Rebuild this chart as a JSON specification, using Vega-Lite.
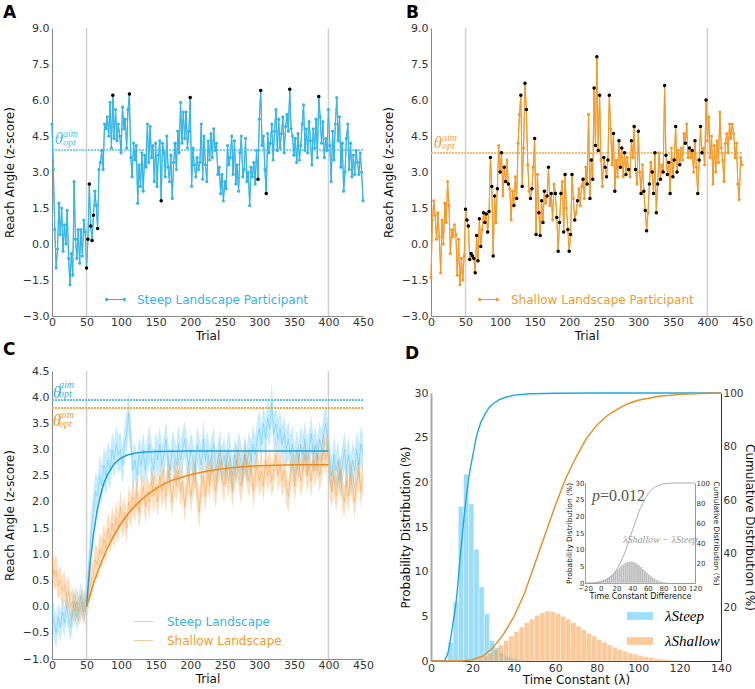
{
"$schema": "https://vega.github.io/schema/vega-lite/v6.json",
"background": "white",
"padding": {"left": 3, "top": 4, "right": 0, "bottom": 0},
"config": {
  "view": {"stroke": null},
  "font": "DejaVu Sans",
  "axis": {"grid": false, "ticks": false, "labelFontSize": 11, "titleFontSize": 12, "titleFontWeight": "normal", "labelColor": "#333", "titleColor": "#111", "domainColor": "#888", "labelPadding": 3, "titlePadding": 4, "labelFlush": false, "labelOverlap": false, "labelSeparation": 0, "labelFont": "DejaVu Sans", "titleFont": "DejaVu Sans"},
  "legend": {"padding": 0, "labelFont": "DejaVu Sans", "labelFontSize": 12, "labelLimit": 400},
  "title": {"fontSize": 17, "fontWeight": "bold", "anchor": "start", "frame": "group", "color": "#000", "font": "DejaVu Sans"}
},
"columns": 2,
"spacing": {"row": 55, "column": 68},
"bounds": "flush",
"resolve": {"scale": {"color": "independent"}, "legend": {"color": "independent"}},
"datasets": {
"steepP": [{"t":0,"v":5.0},{"t":2,"v":3.1},{"t":4,"v":0.6},{"t":6,"v":-1.0},{"t":8,"v":-0.2},{"t":10,"v":1.7},{"t":12,"v":0.4},{"t":14,"v":1.5},{"t":16,"v":-0.3},{"t":18,"v":0.8},{"t":20,"v":0.0},{"t":22,"v":1.4},{"t":24,"v":-0.6},{"t":26,"v":-1.7},{"t":28,"v":-0.4},{"t":30,"v":-1.3},{"t":32,"v":2.6},{"t":34,"v":0.2},{"t":36,"v":-0.6},{"t":38,"v":0.6},{"t":40,"v":-0.8},{"t":42,"v":0.6},{"t":44,"v":-0.5},{"t":46,"v":1.0},{"t":48,"v":0.5},{"t":50,"v":-1.0,"k":1},{"t":52,"v":0.2,"k":1},{"t":54,"v":2.5,"k":1},{"t":56,"v":0.75,"k":1},{"t":58,"v":0.15,"k":1},{"t":60,"v":1.2,"k":1},{"t":62,"v":2.2},{"t":64,"v":1.6},{"t":66,"v":0.65,"k":1},{"t":68,"v":3.1},{"t":70,"v":3.4},{"t":72,"v":3.9},{"t":74,"v":3.1},{"t":76,"v":5.0},{"t":78,"v":4.8},{"t":80,"v":5.3},{"t":82,"v":4.5},{"t":84,"v":5.9},{"t":86,"v":4.0},{"t":88,"v":6.2,"k":1},{"t":90,"v":4.4},{"t":92,"v":5.6},{"t":94,"v":4.3},{"t":96,"v":5.0},{"t":98,"v":4.5},{"t":100,"v":3.8},{"t":102,"v":5.7},{"t":104,"v":4.8},{"t":106,"v":5.2},{"t":108,"v":4.0},{"t":110,"v":5.6},{"t":112,"v":6.25,"k":1},{"t":114,"v":3.6},{"t":116,"v":2.8},{"t":118,"v":4.2},{"t":120,"v":3.5},{"t":122,"v":4.1},{"t":124,"v":1.7},{"t":126,"v":3.3},{"t":128,"v":2.4},{"t":130,"v":3.8},{"t":132,"v":2.2},{"t":134,"v":3.7},{"t":136,"v":3.2},{"t":138,"v":5.0},{"t":140,"v":3.4},{"t":142,"v":4.9},{"t":144,"v":3.6},{"t":146,"v":4.1},{"t":148,"v":2.6},{"t":150,"v":4.2},{"t":152,"v":2.4},{"t":154,"v":3.7},{"t":156,"v":4.3},{"t":158,"v":1.8,"k":1},{"t":160,"v":4.2},{"t":162,"v":3.8},{"t":164,"v":2.8},{"t":166,"v":4.5},{"t":168,"v":3.2},{"t":170,"v":2.6},{"t":172,"v":3.7},{"t":174,"v":1.9},{"t":176,"v":3.4},{"t":178,"v":4.2},{"t":180,"v":3.1},{"t":182,"v":4.7},{"t":184,"v":3.8},{"t":186,"v":5.9},{"t":188,"v":4.2},{"t":190,"v":5.5},{"t":192,"v":4.4},{"t":194,"v":5.5},{"t":196,"v":4.0},{"t":198,"v":4.7},{"t":200,"v":6.1,"k":1},{"t":202,"v":2.4},{"t":204,"v":4.0},{"t":206,"v":3.3},{"t":208,"v":2.8},{"t":210,"v":3.6},{"t":212,"v":3.1},{"t":214,"v":3.4},{"t":216,"v":5.0},{"t":218,"v":2.7},{"t":220,"v":4.5},{"t":222,"v":3.3},{"t":224,"v":2.6},{"t":226,"v":4.3},{"t":228,"v":3.5},{"t":230,"v":4.6},{"t":232,"v":3.6},{"t":234,"v":4.8},{"t":236,"v":3.9},{"t":238,"v":4.2},{"t":240,"v":2.9},{"t":242,"v":3.2},{"t":244,"v":2.1},{"t":246,"v":2.9},{"t":248,"v":1.8},{"t":250,"v":2.6},{"t":252,"v":2.3},{"t":254,"v":4.1},{"t":256,"v":3.3},{"t":258,"v":3.6},{"t":260,"v":4.5},{"t":262,"v":2.9},{"t":264,"v":4.3},{"t":266,"v":2.5},{"t":268,"v":3.3},{"t":270,"v":2.2},{"t":272,"v":3.8},{"t":274,"v":4.5},{"t":276,"v":2.8},{"t":278,"v":3.1},{"t":280,"v":4.4},{"t":282,"v":2.6},{"t":284,"v":3.0},{"t":286,"v":1.6},{"t":288,"v":3.2},{"t":290,"v":2.8},{"t":292,"v":3.4},{"t":294,"v":2.5},{"t":296,"v":3.9},{"t":298,"v":2.7,"k":1},{"t":300,"v":5.2},{"t":302,"v":6.4,"k":1},{"t":304,"v":4.1},{"t":306,"v":4.5},{"t":308,"v":3.1},{"t":310,"v":2.1,"k":1},{"t":312,"v":4.6},{"t":314,"v":3.8},{"t":316,"v":4.2},{"t":318,"v":5.0},{"t":320,"v":3.5},{"t":322,"v":4.7},{"t":324,"v":5.6},{"t":326,"v":3.9},{"t":328,"v":5.2},{"t":330,"v":4.0},{"t":332,"v":4.6},{"t":334,"v":5.3},{"t":336,"v":3.8},{"t":338,"v":4.9},{"t":340,"v":5.4},{"t":342,"v":4.7},{"t":344,"v":6.45,"k":1},{"t":346,"v":4.8},{"t":348,"v":4.5},{"t":350,"v":3.7},{"t":352,"v":4.4},{"t":354,"v":3.4},{"t":356,"v":4.6},{"t":358,"v":3.5},{"t":360,"v":4.1},{"t":362,"v":5.0},{"t":364,"v":5.8},{"t":366,"v":3.9},{"t":368,"v":4.8},{"t":370,"v":3.8},{"t":372,"v":5.1},{"t":374,"v":4.3},{"t":376,"v":3.3},{"t":378,"v":4.8},{"t":380,"v":4.0},{"t":382,"v":5.2},{"t":384,"v":3.6},{"t":386,"v":6.15,"k":1},{"t":388,"v":5.3},{"t":390,"v":4.2},{"t":392,"v":5.1},{"t":394,"v":3.6},{"t":396,"v":4.4},{"t":398,"v":3.9},{"t":400,"v":5.6},{"t":402,"v":4.1},{"t":404,"v":2.6},{"t":406,"v":4.7},{"t":408,"v":3.5},{"t":410,"v":5.0},{"t":412,"v":6.1},{"t":414,"v":4.3},{"t":416,"v":5.3},{"t":418,"v":3.2},{"t":420,"v":4.2},{"t":422,"v":2.2},{"t":424,"v":3.0},{"t":426,"v":4.4},{"t":428,"v":5.0},{"t":430,"v":3.1},{"t":432,"v":4.2},{"t":434,"v":2.8},{"t":436,"v":3.7},{"t":438,"v":2.9},{"t":440,"v":3.9},{"t":442,"v":3.4},{"t":444,"v":2.9},{"t":446,"v":3.8},{"t":448,"v":3.0},{"t":450,"v":1.8}],
"shallowP": [{"t":0,"v":-1.4},{"t":2,"v":1.0},{"t":4,"v":1.8},{"t":6,"v":1.2},{"t":8,"v":0.2},{"t":10,"v":1.3},{"t":12,"v":0.3},{"t":14,"v":-1.2},{"t":16,"v":1.0},{"t":18,"v":0.0},{"t":20,"v":1.7},{"t":22,"v":0.9},{"t":24,"v":2.6},{"t":26,"v":1.6},{"t":28,"v":-0.4},{"t":30,"v":0.6},{"t":32,"v":0.3},{"t":34,"v":0.8},{"t":36,"v":0.4},{"t":38,"v":-1.3},{"t":40,"v":0.2},{"t":42,"v":-1.7},{"t":44,"v":-0.6},{"t":46,"v":-1.5},{"t":48,"v":-0.5},{"t":50,"v":1.45,"k":1},{"t":52,"v":1.0,"k":1},{"t":54,"v":0.75,"k":1},{"t":56,"v":-0.65,"k":1},{"t":58,"v":-0.4,"k":1},{"t":60,"v":-0.5,"k":1},{"t":62,"v":-0.6,"k":1},{"t":64,"v":-1.2,"k":1},{"t":66,"v":0.35,"k":1},{"t":68,"v":-0.7,"k":1},{"t":70,"v":1.05,"k":1},{"t":72,"v":-0.1,"k":1},{"t":74,"v":0.6},{"t":76,"v":1.3,"k":1},{"t":78,"v":0.9,"k":1},{"t":80,"v":1.25,"k":1},{"t":82,"v":0.5,"k":1},{"t":84,"v":1.35,"k":1},{"t":86,"v":3.6,"k":1},{"t":88,"v":2.4,"k":1},{"t":90,"v":-0.5,"k":1},{"t":92,"v":2.0,"k":1},{"t":94,"v":0.9},{"t":96,"v":2.3,"k":1},{"t":98,"v":4.1},{"t":100,"v":3.0,"k":1},{"t":102,"v":3.8,"k":1},{"t":104,"v":2.0},{"t":106,"v":3.2,"k":1},{"t":108,"v":2.6,"k":1},{"t":110,"v":3.5},{"t":112,"v":2.5,"k":1},{"t":114,"v":2.3},{"t":116,"v":1.0},{"t":118,"v":2.2},{"t":120,"v":1.6,"k":1},{"t":122,"v":2.8},{"t":124,"v":1.9,"k":1},{"t":126,"v":4.2},{"t":128,"v":5.4},{"t":130,"v":6.2,"k":1},{"t":132,"v":2.4,"k":1},{"t":134,"v":4.0},{"t":136,"v":6.7,"k":1},{"t":138,"v":5.6,"k":1},{"t":140,"v":3.3},{"t":142,"v":2.2},{"t":144,"v":1.9,"k":1},{"t":146,"v":2.3,"k":1},{"t":148,"v":3.2},{"t":150,"v":4.4,"k":1},{"t":152,"v":0.4,"k":1},{"t":154,"v":2.9},{"t":156,"v":1.3,"k":1},{"t":158,"v":0.35,"k":1},{"t":160,"v":1.8,"k":1},{"t":162,"v":0.9,"k":1},{"t":164,"v":2.2,"k":1},{"t":166,"v":1.7},{"t":168,"v":2.0,"k":1},{"t":170,"v":3.2,"k":1},{"t":172,"v":1.6},{"t":174,"v":2.1,"k":1},{"t":176,"v":1.0},{"t":178,"v":2.5},{"t":180,"v":2.1,"k":1},{"t":182,"v":1.1,"k":1},{"t":184,"v":-0.3,"k":1},{"t":186,"v":0.9,"k":1},{"t":188,"v":2.1,"k":1},{"t":190,"v":2.6},{"t":192,"v":0.5,"k":1},{"t":194,"v":2.9,"k":1},{"t":196,"v":1.5},{"t":198,"v":0.6,"k":1},{"t":200,"v":-0.3,"k":1},{"t":202,"v":0.4,"k":1},{"t":204,"v":2.9,"k":1},{"t":206,"v":1.9},{"t":208,"v":1.0,"k":1},{"t":210,"v":1.3},{"t":212,"v":1.8,"k":1},{"t":214,"v":2.3},{"t":216,"v":1.6},{"t":218,"v":2.4},{"t":220,"v":2.7,"k":1},{"t":222,"v":1.9},{"t":224,"v":3.2},{"t":226,"v":2.5,"k":1},{"t":228,"v":5.4},{"t":230,"v":1.9,"k":1},{"t":232,"v":3.5,"k":1},{"t":234,"v":2.7,"k":1},{"t":236,"v":6.5,"k":1},{"t":238,"v":4.1,"k":1},{"t":240,"v":7.8,"k":1},{"t":242,"v":3.9,"k":1},{"t":244,"v":6.2,"k":1},{"t":246,"v":3.5},{"t":248,"v":2.4},{"t":250,"v":3.6,"k":1},{"t":252,"v":3.2,"k":1},{"t":254,"v":2.8,"k":1},{"t":256,"v":3.5,"k":1},{"t":258,"v":6.2,"k":1},{"t":260,"v":4.8},{"t":262,"v":3.3},{"t":264,"v":4.6,"k":1},{"t":266,"v":2.2,"k":1},{"t":268,"v":3.5},{"t":270,"v":2.8},{"t":272,"v":4.3,"k":1},{"t":274,"v":3.2,"k":1},{"t":276,"v":4.0,"k":1},{"t":278,"v":2.8},{"t":280,"v":3.8,"k":1},{"t":282,"v":2.9,"k":1},{"t":284,"v":3.6},{"t":286,"v":3.1,"k":1},{"t":288,"v":2.8},{"t":290,"v":4.3,"k":1},{"t":292,"v":3.6},{"t":294,"v":4.9,"k":1},{"t":296,"v":3.1,"k":1},{"t":298,"v":2.5},{"t":300,"v":4.7,"k":1},{"t":302,"v":3.0},{"t":304,"v":2.1,"k":1},{"t":306,"v":3.3},{"t":308,"v":2.2,"k":1},{"t":310,"v":1.4,"k":1},{"t":312,"v":0.55,"k":1},{"t":314,"v":1.3},{"t":316,"v":2.5,"k":1},{"t":318,"v":3.4},{"t":320,"v":3.0,"k":1},{"t":322,"v":2.1,"k":1},{"t":324,"v":3.8,"k":1},{"t":326,"v":1.3,"k":1},{"t":328,"v":2.5,"k":1},{"t":330,"v":3.8},{"t":332,"v":2.7,"k":1},{"t":334,"v":3.3},{"t":336,"v":3.0,"k":1},{"t":338,"v":6.6,"k":1},{"t":340,"v":3.7,"k":1},{"t":342,"v":2.9,"k":1},{"t":344,"v":3.4,"k":1},{"t":346,"v":2.1,"k":1},{"t":348,"v":4.0},{"t":350,"v":2.8,"k":1},{"t":352,"v":3.5,"k":1},{"t":354,"v":4.9,"k":1},{"t":356,"v":3.0,"k":1},{"t":358,"v":3.9},{"t":360,"v":3.3,"k":1},{"t":362,"v":4.0},{"t":364,"v":3.5},{"t":366,"v":4.6},{"t":368,"v":4.2,"k":1},{"t":370,"v":5.0},{"t":372,"v":3.6},{"t":374,"v":4.0,"k":1},{"t":376,"v":3.6},{"t":378,"v":3.9,"k":1},{"t":380,"v":3.0},{"t":382,"v":4.3,"k":1},{"t":384,"v":3.2},{"t":386,"v":2.1,"k":1},{"t":388,"v":3.5,"k":1},{"t":390,"v":4.9,"k":1},{"t":392,"v":3.8,"k":1},{"t":394,"v":4.0},{"t":396,"v":3.3},{"t":398,"v":6.0,"k":1},{"t":400,"v":4.3},{"t":402,"v":5.3},{"t":404,"v":3.6},{"t":406,"v":4.5},{"t":408,"v":2.5},{"t":410,"v":4.1},{"t":412,"v":3.0},{"t":414,"v":4.3},{"t":416,"v":3.4},{"t":418,"v":5.5},{"t":420,"v":4.0},{"t":422,"v":3.5},{"t":424,"v":2.6},{"t":426,"v":4.2},{"t":428,"v":4.6},{"t":430,"v":3.8},{"t":432,"v":5.0},{"t":434,"v":4.4},{"t":436,"v":5.0},{"t":438,"v":4.6},{"t":440,"v":3.6},{"t":442,"v":4.2},{"t":444,"v":2.5},{"t":446,"v":1.85},{"t":448,"v":3.6},{"t":450,"v":3.3}],
"meanC": [
{"t":0,"g":"Steep","m":-0.1,"e":0.3},{"t":3,"g":"Steep","m":-0.3,"e":0.32},{"t":6,"g":"Steep","m":-0.5,"e":0.3},{"t":9,"g":"Steep","m":-0.2,"e":0.28},{"t":12,"g":"Steep","m":-0.4,"e":0.3},{"t":15,"g":"Steep","m":-0.1,"e":0.27},{"t":18,"g":"Steep","m":-0.3,"e":0.3},{"t":21,"g":"Steep","m":0.0,"e":0.28},{"t":24,"g":"Steep","m":-0.2,"e":0.3},{"t":27,"g":"Steep","m":-0.4,"e":0.26},{"t":30,"g":"Steep","m":-0.1,"e":0.28},{"t":33,"g":"Steep","m":0.1,"e":0.3},{"t":36,"g":"Steep","m":-0.2,"e":0.27},{"t":39,"g":"Steep","m":0.0,"e":0.28},{"t":42,"g":"Steep","m":0.2,"e":0.3},{"t":45,"g":"Steep","m":-0.1,"e":0.26},{"t":48,"g":"Steep","m":0.1,"e":0.28},{"t":51,"g":"Steep","m":0.3,"e":0.3},{"t":54,"g":"Steep","m":0.9,"e":0.35},{"t":57,"g":"Steep","m":1.5,"e":0.38},{"t":60,"g":"Steep","m":1.8,"e":0.4},{"t":63,"g":"Steep","m":2.2,"e":0.38},{"t":66,"g":"Steep","m":2.1,"e":0.36},{"t":69,"g":"Steep","m":2.5,"e":0.4},{"t":72,"g":"Steep","m":2.3,"e":0.38},{"t":75,"g":"Steep","m":2.7,"e":0.36},{"t":78,"g":"Steep","m":2.5,"e":0.4},{"t":81,"g":"Steep","m":2.8,"e":0.36},{"t":84,"g":"Steep","m":2.6,"e":0.38},{"t":87,"g":"Steep","m":3.0,"e":0.35},{"t":90,"g":"Steep","m":2.8,"e":0.37},{"t":93,"g":"Steep","m":3.1,"e":0.35},{"t":96,"g":"Steep","m":2.9,"e":0.38},{"t":99,"g":"Steep","m":3.0,"e":0.35},{"t":102,"g":"Steep","m":2.7,"e":0.36},{"t":105,"g":"Steep","m":3.1,"e":0.38},{"t":108,"g":"Steep","m":3.3,"e":0.4},{"t":111,"g":"Steep","m":3.7,"e":0.4},{"t":114,"g":"Steep","m":3.2,"e":0.38},{"t":117,"g":"Steep","m":2.6,"e":0.36},{"t":120,"g":"Steep","m":2.8,"e":0.35},{"t":123,"g":"Steep","m":2.5,"e":0.37},{"t":126,"g":"Steep","m":2.9,"e":0.35},{"t":129,"g":"Steep","m":2.7,"e":0.36},{"t":132,"g":"Steep","m":3.0,"e":0.35},{"t":135,"g":"Steep","m":2.6,"e":0.37},{"t":138,"g":"Steep","m":2.9,"e":0.35},{"t":141,"g":"Steep","m":3.1,"e":0.36},{"t":144,"g":"Steep","m":2.8,"e":0.35},{"t":147,"g":"Steep","m":2.6,"e":0.37},{"t":150,"g":"Steep","m":3.0,"e":0.35},{"t":153,"g":"Steep","m":2.8,"e":0.36},{"t":156,"g":"Steep","m":3.1,"e":0.35},{"t":159,"g":"Steep","m":2.7,"e":0.37},{"t":162,"g":"Steep","m":2.9,"e":0.35},{"t":165,"g":"Steep","m":3.2,"e":0.36},{"t":168,"g":"Steep","m":2.8,"e":0.35},{"t":171,"g":"Steep","m":2.6,"e":0.37},{"t":174,"g":"Steep","m":3.0,"e":0.35},{"t":177,"g":"Steep","m":2.9,"e":0.36},{"t":180,"g":"Steep","m":2.7,"e":0.35},{"t":183,"g":"Steep","m":3.1,"e":0.37},{"t":186,"g":"Steep","m":2.8,"e":0.35},{"t":189,"g":"Steep","m":3.0,"e":0.36},{"t":192,"g":"Steep","m":3.2,"e":0.35},{"t":195,"g":"Steep","m":2.9,"e":0.37},{"t":198,"g":"Steep","m":2.7,"e":0.35},{"t":201,"g":"Steep","m":3.0,"e":0.36},{"t":204,"g":"Steep","m":2.8,"e":0.35},{"t":207,"g":"Steep","m":2.6,"e":0.37},{"t":210,"g":"Steep","m":3.1,"e":0.35},{"t":213,"g":"Steep","m":2.9,"e":0.36},{"t":216,"g":"Steep","m":2.7,"e":0.35},{"t":219,"g":"Steep","m":3.2,"e":0.37},{"t":222,"g":"Steep","m":2.8,"e":0.35},{"t":225,"g":"Steep","m":3.0,"e":0.36},{"t":228,"g":"Steep","m":2.7,"e":0.35},{"t":231,"g":"Steep","m":2.9,"e":0.37},{"t":234,"g":"Steep","m":3.1,"e":0.35},{"t":237,"g":"Steep","m":2.6,"e":0.36},{"t":240,"g":"Steep","m":2.8,"e":0.35},{"t":243,"g":"Steep","m":3.0,"e":0.37},{"t":246,"g":"Steep","m":2.7,"e":0.35},{"t":249,"g":"Steep","m":2.9,"e":0.36},{"t":252,"g":"Steep","m":2.6,"e":0.35},{"t":255,"g":"Steep","m":3.0,"e":0.37},{"t":258,"g":"Steep","m":2.8,"e":0.35},{"t":261,"g":"Steep","m":2.5,"e":0.36},{"t":264,"g":"Steep","m":2.9,"e":0.35},{"t":267,"g":"Steep","m":2.7,"e":0.37},{"t":270,"g":"Steep","m":3.0,"e":0.35},{"t":273,"g":"Steep","m":2.8,"e":0.36},{"t":276,"g":"Steep","m":2.6,"e":0.35},{"t":279,"g":"Steep","m":2.9,"e":0.37},{"t":282,"g":"Steep","m":2.7,"e":0.35},{"t":285,"g":"Steep","m":3.0,"e":0.36},{"t":288,"g":"Steep","m":2.8,"e":0.35},{"t":291,"g":"Steep","m":3.1,"e":0.37},{"t":294,"g":"Steep","m":2.9,"e":0.35},{"t":297,"g":"Steep","m":3.2,"e":0.36},{"t":300,"g":"Steep","m":3.4,"e":0.38},{"t":303,"g":"Steep","m":3.1,"e":0.36},{"t":306,"g":"Steep","m":3.5,"e":0.38},{"t":309,"g":"Steep","m":3.2,"e":0.36},{"t":312,"g":"Steep","m":3.6,"e":0.38},{"t":315,"g":"Steep","m":3.4,"e":0.36},{"t":318,"g":"Steep","m":3.9,"e":0.4},{"t":321,"g":"Steep","m":3.3,"e":0.36},{"t":324,"g":"Steep","m":3.5,"e":0.38},{"t":327,"g":"Steep","m":3.2,"e":0.36},{"t":330,"g":"Steep","m":3.4,"e":0.38},{"t":333,"g":"Steep","m":3.1,"e":0.36},{"t":336,"g":"Steep","m":3.3,"e":0.37},{"t":339,"g":"Steep","m":3.0,"e":0.36},{"t":342,"g":"Steep","m":3.2,"e":0.37},{"t":345,"g":"Steep","m":2.9,"e":0.36},{"t":348,"g":"Steep","m":3.1,"e":0.37},{"t":351,"g":"Steep","m":2.7,"e":0.36},{"t":354,"g":"Steep","m":3.0,"e":0.37},{"t":357,"g":"Steep","m":2.8,"e":0.36},{"t":360,"g":"Steep","m":3.1,"e":0.37},{"t":363,"g":"Steep","m":2.9,"e":0.36},{"t":366,"g":"Steep","m":3.2,"e":0.37},{"t":369,"g":"Steep","m":2.8,"e":0.36},{"t":372,"g":"Steep","m":3.0,"e":0.37},{"t":375,"g":"Steep","m":3.3,"e":0.36},{"t":378,"g":"Steep","m":2.9,"e":0.37},{"t":381,"g":"Steep","m":3.1,"e":0.36},{"t":384,"g":"Steep","m":2.8,"e":0.37},{"t":387,"g":"Steep","m":3.2,"e":0.36},{"t":390,"g":"Steep","m":3.0,"e":0.37},{"t":393,"g":"Steep","m":3.3,"e":0.36},{"t":396,"g":"Steep","m":3.5,"e":0.38},{"t":399,"g":"Steep","m":3.2,"e":0.37},{"t":402,"g":"Steep","m":2.8,"e":0.38},{"t":405,"g":"Steep","m":2.5,"e":0.36},{"t":408,"g":"Steep","m":2.9,"e":0.38},{"t":411,"g":"Steep","m":2.6,"e":0.36},{"t":414,"g":"Steep","m":2.8,"e":0.38},{"t":417,"g":"Steep","m":2.4,"e":0.36},{"t":420,"g":"Steep","m":2.7,"e":0.38},{"t":423,"g":"Steep","m":3.0,"e":0.36},{"t":426,"g":"Steep","m":2.6,"e":0.38},{"t":429,"g":"Steep","m":2.9,"e":0.36},{"t":432,"g":"Steep","m":2.5,"e":0.38},{"t":435,"g":"Steep","m":2.8,"e":0.36},{"t":438,"g":"Steep","m":2.6,"e":0.38},{"t":441,"g":"Steep","m":3.0,"e":0.36},{"t":444,"g":"Steep","m":2.7,"e":0.38},{"t":447,"g":"Steep","m":3.1,"e":0.36},{"t":450,"g":"Steep","m":2.9,"e":0.38},
{"t":0,"g":"Shallow","m":0.9,"e":0.35},{"t":3,"g":"Shallow","m":0.6,"e":0.3},{"t":6,"g":"Shallow","m":0.7,"e":0.32},{"t":9,"g":"Shallow","m":0.4,"e":0.28},{"t":12,"g":"Shallow","m":0.5,"e":0.3},{"t":15,"g":"Shallow","m":0.3,"e":0.28},{"t":18,"g":"Shallow","m":0.4,"e":0.3},{"t":21,"g":"Shallow","m":0.2,"e":0.27},{"t":24,"g":"Shallow","m":0.3,"e":0.3},{"t":27,"g":"Shallow","m":0.0,"e":0.27},{"t":30,"g":"Shallow","m":0.1,"e":0.28},{"t":33,"g":"Shallow","m":-0.1,"e":0.27},{"t":36,"g":"Shallow","m":0.1,"e":0.28},{"t":39,"g":"Shallow","m":-0.1,"e":0.26},{"t":42,"g":"Shallow","m":0.0,"e":0.27},{"t":45,"g":"Shallow","m":0.1,"e":0.26},{"t":48,"g":"Shallow","m":-0.1,"e":0.26},{"t":51,"g":"Shallow","m":0.1,"e":0.27},{"t":54,"g":"Shallow","m":0.3,"e":0.28},{"t":57,"g":"Shallow","m":0.5,"e":0.3},{"t":60,"g":"Shallow","m":0.6,"e":0.3},{"t":63,"g":"Shallow","m":0.9,"e":0.32},{"t":66,"g":"Shallow","m":0.8,"e":0.3},{"t":69,"g":"Shallow","m":1.1,"e":0.32},{"t":72,"g":"Shallow","m":1.0,"e":0.3},{"t":75,"g":"Shallow","m":1.3,"e":0.32},{"t":78,"g":"Shallow","m":1.1,"e":0.3},{"t":81,"g":"Shallow","m":1.5,"e":0.33},{"t":84,"g":"Shallow","m":1.3,"e":0.3},{"t":87,"g":"Shallow","m":1.6,"e":0.33},{"t":90,"g":"Shallow","m":1.4,"e":0.3},{"t":93,"g":"Shallow","m":1.7,"e":0.33},{"t":96,"g":"Shallow","m":1.5,"e":0.3},{"t":99,"g":"Shallow","m":1.9,"e":0.33},{"t":102,"g":"Shallow","m":1.6,"e":0.3},{"t":105,"g":"Shallow","m":1.8,"e":0.33},{"t":108,"g":"Shallow","m":1.5,"e":0.3},{"t":111,"g":"Shallow","m":2.0,"e":0.33},{"t":114,"g":"Shallow","m":1.8,"e":0.3},{"t":117,"g":"Shallow","m":2.1,"e":0.33},{"t":120,"g":"Shallow","m":1.9,"e":0.3},{"t":123,"g":"Shallow","m":2.2,"e":0.33},{"t":126,"g":"Shallow","m":1.8,"e":0.3},{"t":129,"g":"Shallow","m":2.1,"e":0.33},{"t":132,"g":"Shallow","m":2.3,"e":0.3},{"t":135,"g":"Shallow","m":1.9,"e":0.33},{"t":138,"g":"Shallow","m":2.2,"e":0.3},{"t":141,"g":"Shallow","m":2.0,"e":0.33},{"t":144,"g":"Shallow","m":2.4,"e":0.3},{"t":147,"g":"Shallow","m":2.1,"e":0.33},{"t":150,"g":"Shallow","m":2.3,"e":0.3},{"t":153,"g":"Shallow","m":2.0,"e":0.33},{"t":156,"g":"Shallow","m":2.5,"e":0.3},{"t":159,"g":"Shallow","m":2.2,"e":0.33},{"t":162,"g":"Shallow","m":2.4,"e":0.3},{"t":165,"g":"Shallow","m":2.1,"e":0.33},{"t":168,"g":"Shallow","m":2.6,"e":0.3},{"t":171,"g":"Shallow","m":2.3,"e":0.33},{"t":174,"g":"Shallow","m":2.0,"e":0.3},{"t":177,"g":"Shallow","m":2.5,"e":0.33},{"t":180,"g":"Shallow","m":2.3,"e":0.3},{"t":183,"g":"Shallow","m":2.6,"e":0.33},{"t":186,"g":"Shallow","m":2.2,"e":0.3},{"t":189,"g":"Shallow","m":2.4,"e":0.33},{"t":192,"g":"Shallow","m":1.9,"e":0.3},{"t":195,"g":"Shallow","m":2.3,"e":0.33},{"t":198,"g":"Shallow","m":2.5,"e":0.3},{"t":201,"g":"Shallow","m":2.1,"e":0.33},{"t":204,"g":"Shallow","m":2.4,"e":0.3},{"t":207,"g":"Shallow","m":2.6,"e":0.33},{"t":210,"g":"Shallow","m":2.2,"e":0.3},{"t":213,"g":"Shallow","m":1.8,"e":0.33},{"t":216,"g":"Shallow","m":2.3,"e":0.3},{"t":219,"g":"Shallow","m":2.5,"e":0.33},{"t":222,"g":"Shallow","m":2.1,"e":0.3},{"t":225,"g":"Shallow","m":2.6,"e":0.33},{"t":228,"g":"Shallow","m":2.3,"e":0.3},{"t":231,"g":"Shallow","m":2.7,"e":0.33},{"t":234,"g":"Shallow","m":2.4,"e":0.3},{"t":237,"g":"Shallow","m":2.2,"e":0.33},{"t":240,"g":"Shallow","m":2.6,"e":0.3},{"t":243,"g":"Shallow","m":2.8,"e":0.33},{"t":246,"g":"Shallow","m":2.5,"e":0.3},{"t":249,"g":"Shallow","m":2.3,"e":0.33},{"t":252,"g":"Shallow","m":2.7,"e":0.3},{"t":255,"g":"Shallow","m":2.4,"e":0.33},{"t":258,"g":"Shallow","m":2.6,"e":0.3},{"t":261,"g":"Shallow","m":2.2,"e":0.33},{"t":264,"g":"Shallow","m":2.5,"e":0.3},{"t":267,"g":"Shallow","m":2.8,"e":0.33},{"t":270,"g":"Shallow","m":2.6,"e":0.3},{"t":273,"g":"Shallow","m":2.3,"e":0.33},{"t":276,"g":"Shallow","m":2.5,"e":0.3},{"t":279,"g":"Shallow","m":2.9,"e":0.33},{"t":282,"g":"Shallow","m":2.6,"e":0.3},{"t":285,"g":"Shallow","m":2.4,"e":0.33},{"t":288,"g":"Shallow","m":2.7,"e":0.3},{"t":291,"g":"Shallow","m":2.2,"e":0.33},{"t":294,"g":"Shallow","m":2.5,"e":0.3},{"t":297,"g":"Shallow","m":2.7,"e":0.33},{"t":300,"g":"Shallow","m":2.4,"e":0.3},{"t":303,"g":"Shallow","m":2.6,"e":0.33},{"t":306,"g":"Shallow","m":2.3,"e":0.3},{"t":309,"g":"Shallow","m":2.8,"e":0.33},{"t":312,"g":"Shallow","m":2.5,"e":0.3},{"t":315,"g":"Shallow","m":2.7,"e":0.33},{"t":318,"g":"Shallow","m":2.4,"e":0.3},{"t":321,"g":"Shallow","m":2.6,"e":0.33},{"t":324,"g":"Shallow","m":2.9,"e":0.3},{"t":327,"g":"Shallow","m":2.5,"e":0.33},{"t":330,"g":"Shallow","m":2.7,"e":0.3},{"t":333,"g":"Shallow","m":2.4,"e":0.33},{"t":336,"g":"Shallow","m":2.6,"e":0.3},{"t":339,"g":"Shallow","m":2.3,"e":0.33},{"t":342,"g":"Shallow","m":2.1,"e":0.3},{"t":345,"g":"Shallow","m":2.5,"e":0.33},{"t":348,"g":"Shallow","m":2.7,"e":0.3},{"t":351,"g":"Shallow","m":2.3,"e":0.33},{"t":354,"g":"Shallow","m":2.6,"e":0.3},{"t":357,"g":"Shallow","m":2.8,"e":0.33},{"t":360,"g":"Shallow","m":2.4,"e":0.3},{"t":363,"g":"Shallow","m":2.6,"e":0.33},{"t":366,"g":"Shallow","m":2.9,"e":0.3},{"t":369,"g":"Shallow","m":2.5,"e":0.33},{"t":372,"g":"Shallow","m":2.7,"e":0.3},{"t":375,"g":"Shallow","m":2.4,"e":0.33},{"t":378,"g":"Shallow","m":2.8,"e":0.3},{"t":381,"g":"Shallow","m":2.6,"e":0.33},{"t":384,"g":"Shallow","m":2.9,"e":0.3},{"t":387,"g":"Shallow","m":2.5,"e":0.33},{"t":390,"g":"Shallow","m":2.7,"e":0.3},{"t":393,"g":"Shallow","m":3.0,"e":0.33},{"t":396,"g":"Shallow","m":2.8,"e":0.3},{"t":399,"g":"Shallow","m":3.1,"e":0.33},{"t":402,"g":"Shallow","m":2.4,"e":0.33},{"t":405,"g":"Shallow","m":2.2,"e":0.3},{"t":408,"g":"Shallow","m":2.5,"e":0.33},{"t":411,"g":"Shallow","m":2.1,"e":0.3},{"t":414,"g":"Shallow","m":2.4,"e":0.33},{"t":417,"g":"Shallow","m":2.6,"e":0.3},{"t":420,"g":"Shallow","m":2.2,"e":0.33},{"t":423,"g":"Shallow","m":2.0,"e":0.3},{"t":426,"g":"Shallow","m":2.4,"e":0.33},{"t":429,"g":"Shallow","m":2.1,"e":0.3},{"t":432,"g":"Shallow","m":2.5,"e":0.33},{"t":435,"g":"Shallow","m":2.3,"e":0.3},{"t":438,"g":"Shallow","m":2.0,"e":0.33},{"t":441,"g":"Shallow","m":2.4,"e":0.3},{"t":444,"g":"Shallow","m":2.6,"e":0.33},{"t":447,"g":"Shallow","m":2.2,"e":0.3},{"t":450,"g":"Shallow","m":2.5,"e":0.33}],
"fitC": [{"t":50,"g":"Steep","v":0},{"t":55,"g":"Steep","v":0.8},{"t":60,"g":"Steep","v":1.38},{"t":65,"g":"Steep","v":1.81},{"t":70,"g":"Steep","v":2.12},{"t":75,"g":"Steep","v":2.35},{"t":80,"g":"Steep","v":2.51},{"t":90,"g":"Steep","v":2.73},{"t":100,"g":"Steep","v":2.84},{"t":110,"g":"Steep","v":2.9},{"t":120,"g":"Steep","v":2.93},{"t":130,"g":"Steep","v":2.95},{"t":150,"g":"Steep","v":2.964},{"t":200,"g":"Steep","v":2.97},{"t":400,"g":"Steep","v":2.97},
{"t":50,"g":"Shallow","v":0},{"t":60,"g":"Shallow","v":0.44},{"t":70,"g":"Shallow","v":0.8},{"t":80,"g":"Shallow","v":1.11},{"t":90,"g":"Shallow","v":1.37},{"t":100,"g":"Shallow","v":1.59},{"t":110,"g":"Shallow","v":1.77},{"t":120,"g":"Shallow","v":1.92},{"t":130,"g":"Shallow","v":2.05},{"t":140,"g":"Shallow","v":2.16},{"t":150,"g":"Shallow","v":2.25},{"t":160,"g":"Shallow","v":2.33},{"t":175,"g":"Shallow","v":2.42},{"t":200,"g":"Shallow","v":2.52},{"t":225,"g":"Shallow","v":2.59},{"t":250,"g":"Shallow","v":2.64},{"t":275,"g":"Shallow","v":2.67},{"t":300,"g":"Shallow","v":2.69},{"t":350,"g":"Shallow","v":2.71},{"t":400,"g":"Shallow","v":2.71}],
"histD": [{"g":"Steep","a":8.2,"b":10.7,"h":2.1},{"g":"Steep","a":10.7,"b":13.2,"h":6.6},{"g":"Steep","a":13.2,"b":15.7,"h":17.3},{"g":"Steep","a":15.7,"b":18.2,"h":20.9},{"g":"Steep","a":18.2,"b":20.7,"h":17.6},{"g":"Steep","a":20.7,"b":23.2,"h":12.5},{"g":"Steep","a":23.2,"b":25.7,"h":8.3},{"g":"Steep","a":25.7,"b":28.2,"h":5.3},{"g":"Steep","a":28.2,"b":30.7,"h":2.3},{"g":"Steep","a":30.7,"b":33.2,"h":1.5},{"g":"Steep","a":33.2,"b":35.7,"h":0.9},{"g":"Steep","a":35.7,"b":38.2,"h":0.5},{"g":"Steep","a":38.2,"b":40.7,"h":0.3},{"g":"Steep","a":40.7,"b":43.2,"h":0.2},{"g":"Steep","a":43.2,"b":45.7,"h":0.1},
{"g":"Shallow","a":20,"b":22.5,"h":0.2},{"g":"Shallow","a":22.5,"b":25,"h":0.35},{"g":"Shallow","a":25,"b":27.5,"h":0.6},{"g":"Shallow","a":27.5,"b":30,"h":0.9},{"g":"Shallow","a":30,"b":32.5,"h":1.3},{"g":"Shallow","a":32.5,"b":35,"h":1.8},{"g":"Shallow","a":35,"b":37.5,"h":2.3},{"g":"Shallow","a":37.5,"b":40,"h":2.8},{"g":"Shallow","a":40,"b":42.5,"h":3.3},{"g":"Shallow","a":42.5,"b":45,"h":3.8},{"g":"Shallow","a":45,"b":47.5,"h":4.3},{"g":"Shallow","a":47.5,"b":50,"h":4.7},{"g":"Shallow","a":50,"b":52.5,"h":5.1},{"g":"Shallow","a":52.5,"b":55,"h":5.4},{"g":"Shallow","a":55,"b":57.5,"h":5.6},{"g":"Shallow","a":57.5,"b":60,"h":5.5},{"g":"Shallow","a":60,"b":62.5,"h":5.3},{"g":"Shallow","a":62.5,"b":65,"h":5.0},{"g":"Shallow","a":65,"b":67.5,"h":4.7},{"g":"Shallow","a":67.5,"b":70,"h":4.3},{"g":"Shallow","a":70,"b":72.5,"h":3.9},{"g":"Shallow","a":72.5,"b":75,"h":3.5},{"g":"Shallow","a":75,"b":77.5,"h":3.1},{"g":"Shallow","a":77.5,"b":80,"h":2.8},{"g":"Shallow","a":80,"b":82.5,"h":2.4},{"g":"Shallow","a":82.5,"b":85,"h":2.1},{"g":"Shallow","a":85,"b":87.5,"h":1.8},{"g":"Shallow","a":87.5,"b":90,"h":1.5},{"g":"Shallow","a":90,"b":92.5,"h":1.3},{"g":"Shallow","a":92.5,"b":95,"h":1.1},{"g":"Shallow","a":95,"b":97.5,"h":0.9},{"g":"Shallow","a":97.5,"b":100,"h":0.75},{"g":"Shallow","a":100,"b":102.5,"h":0.6},{"g":"Shallow","a":102.5,"b":105,"h":0.5},{"g":"Shallow","a":105,"b":107.5,"h":0.4},{"g":"Shallow","a":107.5,"b":110,"h":0.3},{"g":"Shallow","a":110,"b":112.5,"h":0.22},{"g":"Shallow","a":112.5,"b":115,"h":0.16},{"g":"Shallow","a":115,"b":117.5,"h":0.11},{"g":"Shallow","a":117.5,"b":120,"h":0.07},{"g":"Shallow","a":120,"b":122.5,"h":0.04}],
"cdfD": [{"g":"Steep","x":0,"c":0},{"g":"Steep","x":6.5,"c":0},{"g":"Steep","x":8,"c":2.5},{"g":"Steep","x":9,"c":6},{"g":"Steep","x":10,"c":11},{"g":"Steep","x":11,"c":16},{"g":"Steep","x":12,"c":21},{"g":"Steep","x":13,"c":29},{"g":"Steep","x":14,"c":38},{"g":"Steep","x":15,"c":46},{"g":"Steep","x":16,"c":54},{"g":"Steep","x":17,"c":61},{"g":"Steep","x":18,"c":67},{"g":"Steep","x":19,"c":72},{"g":"Steep","x":20,"c":76},{"g":"Steep","x":22,"c":84},{"g":"Steep","x":24,"c":89},{"g":"Steep","x":26,"c":92},{"g":"Steep","x":28,"c":94.5},{"g":"Steep","x":30,"c":96},{"g":"Steep","x":33,"c":97.5},{"g":"Steep","x":36,"c":98.4},{"g":"Steep","x":40,"c":99.2},{"g":"Steep","x":48,"c":99.7},{"g":"Steep","x":60,"c":99.9},{"g":"Steep","x":80,"c":100},{"g":"Steep","x":140,"c":100},
{"g":"Shallow","x":0,"c":0},{"g":"Shallow","x":15,"c":0},{"g":"Shallow","x":20,"c":0.5},{"g":"Shallow","x":25,"c":1.8},{"g":"Shallow","x":30,"c":5},{"g":"Shallow","x":35,"c":10},{"g":"Shallow","x":40,"c":16.5},{"g":"Shallow","x":45,"c":25},{"g":"Shallow","x":50,"c":36},{"g":"Shallow","x":55,"c":47},{"g":"Shallow","x":60,"c":58},{"g":"Shallow","x":65,"c":68},{"g":"Shallow","x":70,"c":76},{"g":"Shallow","x":75,"c":83},{"g":"Shallow","x":80,"c":88},{"g":"Shallow","x":85,"c":91.5},{"g":"Shallow","x":90,"c":94},{"g":"Shallow","x":95,"c":96},{"g":"Shallow","x":100,"c":97.3},{"g":"Shallow","x":110,"c":98.8},{"g":"Shallow","x":120,"c":99.5},{"g":"Shallow","x":130,"c":99.8},{"g":"Shallow","x":140,"c":100}],
"histI": [{"a":-5,"b":-2.5,"h":0.32},{"a":-2.5,"b":0,"h":0.45},{"a":0,"b":2.5,"h":0.63},{"a":2.5,"b":5,"h":0.85},{"a":5,"b":7.5,"h":1.14},{"a":7.5,"b":10,"h":1.48},{"a":10,"b":12.5,"h":1.89},{"a":12.5,"b":15,"h":2.35},{"a":15,"b":17.5,"h":2.87},{"a":17.5,"b":20,"h":3.42},{"a":20,"b":22.5,"h":4.0},{"a":22.5,"b":25,"h":4.57},{"a":25,"b":27.5,"h":5.12},{"a":27.5,"b":30,"h":5.6},{"a":30,"b":32.5,"h":6.01},{"a":32.5,"b":35,"h":6.3},{"a":35,"b":37.5,"h":6.47},{"a":37.5,"b":40,"h":6.5},{"a":40,"b":42.5,"h":6.38},{"a":42.5,"b":45,"h":6.14},{"a":45,"b":47.5,"h":5.78},{"a":47.5,"b":50,"h":5.32},{"a":50,"b":52.5,"h":4.8},{"a":52.5,"b":55,"h":4.23},{"a":55,"b":57.5,"h":3.65},{"a":57.5,"b":60,"h":3.09},{"a":60,"b":62.5,"h":2.55},{"a":62.5,"b":65,"h":2.06},{"a":65,"b":67.5,"h":1.63},{"a":67.5,"b":70,"h":1.27},{"a":70,"b":72.5,"h":0.96},{"a":72.5,"b":75,"h":0.71},{"a":75,"b":77.5,"h":0.52},{"a":77.5,"b":80,"h":0.37},{"a":80,"b":82.5,"h":0.26},{"a":82.5,"b":85,"h":0.17},{"a":85,"b":87.5,"h":0.12},{"a":87.5,"b":90,"h":0.08}],
"cdfI": [{"x":-20,"c":0},{"x":-10,"c":0.2},{"x":0,"c":1.2},{"x":5,"c":2.5},{"x":10,"c":4.5},{"x":15,"c":8},{"x":20,"c":13},{"x":25,"c":20},{"x":30,"c":29},{"x":35,"c":40},{"x":40,"c":52},{"x":45,"c":63},{"x":50,"c":74},{"x":55,"c":82},{"x":60,"c":89},{"x":65,"c":93.5},{"x":70,"c":96.5},{"x":80,"c":99.2},{"x":90,"c":99.9},{"x":100,"c":100},{"x":120,"c":100}]
},
"concat": [
{
  "title": {"text": "A", "dx": -49, "offset": 0},
  "width": 311, "height": 288,
  "data": {"name": "steepP"},
  "layer": [
    {"mark": {"type": "line", "strokeWidth": 1},
     "encoding": {"x": {"field": "t", "type": "quantitative", "scale": {"domain": [0, 450], "nice": false, "zero": false}, "axis": {"values": [0,50,100,150,200,250,300,350,400,450], "tickCount": 30, "title": "Trial", "labelOverlap": false, "labelPadding": 0, "titlePadding": 3}},
       "y": {"field": "v", "type": "quantitative", "scale": {"domain": [-3, 9], "nice": false, "zero": false}, "axis": {"values": [-3,-1.5,0,1.5,3,4.5,6,7.5,9], "tickCount": 30, "format": ".1f", "title": "Reach Angle (z-score)", "labelOverlap": false, "titlePadding": 6}},
       "color": {"datum": "Steep Landscape Participant", "type": "nominal", "scale": {"range": ["#33B5E9"]},
         "legend": {"orient": "none", "legendX": 53, "legendY": 261, "title": null, "symbolType": "M-1,0H1M-0.75,0a0.13,0.13 0 1,0 -0.26,0a0.13,0.13 0 1,0 0.26,0M1.01,0a0.13,0.13 0 1,0 -0.26,0a0.13,0.13 0 1,0 0.26,0", "symbolSize": 400, "symbolStrokeWidth": 1, "symbolFillColor": "#33B5E9", "labelColor": "#33B5E9", "labelFontSize": 12, "labelOffset": 11, "labelLimit": 400}}}},
    {"data": {"values": [{"t": 50}, {"t": 400}]}, "mark": {"type": "rule", "color": "#d0d0d0", "strokeWidth": 1.5},
     "encoding": {"x": {"field": "t", "type": "quantitative", "title": "Trial"}}},
    {"mark": {"type": "rule", "color": "#7CCFF2", "strokeDash": [1.5, 1.5], "strokeWidth": 1}, "encoding": {"y": {"datum": 3.93, "type": "quantitative", "title": "Reach Angle (z-score)"}}},
    {"mark": {"type": "line", "strokeWidth": 1, "color": "#33B5E9"}, "encoding": {"x": {"field": "t", "type": "quantitative", "title": "Trial"}, "y": {"field": "v", "type": "quantitative", "title": "Reach Angle (z-score)"}}},
    {"mark": {"type": "circle", "size": 10, "opacity": 1, "color": "#33B5E9"}, "encoding": {"x": {"field": "t", "type": "quantitative", "title": "Trial"}, "y": {"field": "v", "type": "quantitative", "title": "Reach Angle (z-score)"}}},
    {"transform": [{"filter": "datum.k == 1"}], "mark": {"type": "circle", "size": 12, "opacity": 1, "color": "#000"}, "encoding": {"x": {"field": "t", "type": "quantitative", "title": "Trial"}, "y": {"field": "v", "type": "quantitative", "title": "Reach Angle (z-score)"}}},
    {"data": {"values": [{}]}, "mark": {"type": "text", "text": "θ", "font": "Liberation Serif", "fontStyle": "italic", "fontSize": 17, "color": "#55C2EE", "align": "left", "baseline": "alphabetic"}, "encoding": {"x": {"datum": 4}, "y": {"datum": 4.15}}},
    {"data": {"values": [{}]}, "mark": {"type": "text", "text": "aim", "font": "Liberation Serif", "fontStyle": "italic", "fontSize": 10, "color": "#55C2EE", "align": "left", "baseline": "alphabetic"}, "encoding": {"x": {"datum": 16}, "y": {"datum": 4.45}}},
    {"data": {"values": [{}]}, "mark": {"type": "text", "text": "opt", "font": "Liberation Serif", "fontStyle": "italic", "fontSize": 10, "color": "#55C2EE", "align": "left", "baseline": "alphabetic"}, "encoding": {"x": {"datum": 16}, "y": {"datum": 4.1}}}
  ]
},
{
  "title": {"text": "B", "dx": -25, "offset": 0},
  "width": 311, "height": 288,
  "data": {"name": "shallowP"},
  "layer": [
    {"mark": {"type": "line", "strokeWidth": 1},
     "encoding": {"x": {"field": "t", "type": "quantitative", "scale": {"domain": [0, 450], "nice": false, "zero": false}, "axis": {"values": [0,50,100,150,200,250,300,350,400,450], "tickCount": 30, "title": "Trial", "labelOverlap": false, "labelPadding": 0, "titlePadding": 3}},
       "y": {"field": "v", "type": "quantitative", "scale": {"domain": [-3, 9], "nice": false, "zero": false}, "axis": {"values": [-3,-1.5,0,1.5,3,4.5,6,7.5,9], "tickCount": 30, "format": ".1f", "title": "Reach Angle (z-score)", "labelOverlap": false, "titlePadding": 6}},
       "color": {"datum": "Shallow Landscape Participant", "type": "nominal", "scale": {"range": ["#F39A2B"]},
         "legend": {"orient": "none", "legendX": 47, "legendY": 261, "title": null, "symbolType": "M-1,0H1M-0.75,0a0.13,0.13 0 1,0 -0.26,0a0.13,0.13 0 1,0 0.26,0M1.01,0a0.13,0.13 0 1,0 -0.26,0a0.13,0.13 0 1,0 0.26,0", "symbolSize": 400, "symbolStrokeWidth": 1, "symbolFillColor": "#F39A2B", "labelColor": "#F39A2B", "labelFontSize": 12, "labelOffset": 12, "labelLimit": 400}}}},
    {"data": {"values": [{"t": 50}, {"t": 400}]}, "mark": {"type": "rule", "color": "#d0d0d0", "strokeWidth": 1.5},
     "encoding": {"x": {"field": "t", "type": "quantitative", "title": "Trial"}}},
    {"mark": {"type": "rule", "color": "#F7B872", "strokeDash": [1.5, 1.5], "strokeWidth": 1}, "encoding": {"y": {"datum": 3.78, "type": "quantitative", "title": "Reach Angle (z-score)"}}},
    {"mark": {"type": "line", "strokeWidth": 1, "color": "#F39A2B"}, "encoding": {"x": {"field": "t", "type": "quantitative", "title": "Trial"}, "y": {"field": "v", "type": "quantitative", "title": "Reach Angle (z-score)"}}},
    {"mark": {"type": "circle", "size": 10, "opacity": 1, "color": "#F39A2B"}, "encoding": {"x": {"field": "t", "type": "quantitative", "title": "Trial"}, "y": {"field": "v", "type": "quantitative", "title": "Reach Angle (z-score)"}}},
    {"transform": [{"filter": "datum.k == 1"}], "mark": {"type": "circle", "size": 12, "opacity": 1, "color": "#000"}, "encoding": {"x": {"field": "t", "type": "quantitative", "title": "Trial"}, "y": {"field": "v", "type": "quantitative", "title": "Reach Angle (z-score)"}}},
    {"data": {"values": [{}]}, "mark": {"type": "text", "text": "θ", "font": "Liberation Serif", "fontStyle": "italic", "fontSize": 17, "color": "#F5A54A", "align": "left", "baseline": "alphabetic"}, "encoding": {"x": {"datum": 4}, "y": {"datum": 4.0}}},
    {"data": {"values": [{}]}, "mark": {"type": "text", "text": "aim", "font": "Liberation Serif", "fontStyle": "italic", "fontSize": 10, "color": "#F5A54A", "align": "left", "baseline": "alphabetic"}, "encoding": {"x": {"datum": 16}, "y": {"datum": 4.3}}},
    {"data": {"values": [{}]}, "mark": {"type": "text", "text": "opt", "font": "Liberation Serif", "fontStyle": "italic", "fontSize": 10, "color": "#F5A54A", "align": "left", "baseline": "alphabetic"}, "encoding": {"x": {"datum": 16}, "y": {"datum": 3.95}}}
  ]
},
{
  "title": {"text": "C", "dx": -49, "offset": 6},
  "width": 311, "height": 288,
  "data": {"name": "meanC"},
  "layer": [
    {"mark": {"type": "errorband", "opacity": 0.33},
     "encoding": {"x": {"field": "t", "type": "quantitative", "scale": {"domain": [0, 450], "nice": false, "zero": false}, "axis": {"values": [0,50,100,150,200,250,300,350,400,450], "tickCount": 30, "title": "Trial", "labelOverlap": false, "labelPadding": 0, "titlePadding": 3}},
       "y": {"field": "m", "type": "quantitative", "scale": {"domain": [-1, 4.5], "nice": false, "zero": false}, "axis": {"values": [-1,-0.5,0,0.5,1,1.5,2,2.5,3,3.5,4,4.5], "tickCount": 30, "format": ".1f", "title": "Reach Angle (z-score)", "labelOverlap": false, "titlePadding": 6}},
       "yError": {"field": "e"},
       "color": {"field": "g", "type": "nominal", "scale": {"domain": ["Steep", "Shallow"], "range": ["#4FC3F7", "#F79A3A"]},
         "legend": {"orient": "none", "legendX": 81, "legendY": 240, "title": null, "symbolType": "stroke", "symbolSize": 380, "symbolStrokeWidth": 1, "symbolOpacity": 0.5, "labelFontSize": 12, "labelOffset": 13, "rowPadding": 2, "labelExpr": "datum.label + ' Landscape'",
           "encode": {"labels": {"update": {"fill": {"signal": "datum.value === 'Steep' ? '#33B5E9' : '#F39A2B'"}}}}}}}},
    {"data": {"values": [{"t": 50}, {"t": 400}]}, "mark": {"type": "rule", "color": "#d0d0d0", "strokeWidth": 1.5},
     "encoding": {"x": {"field": "t", "type": "quantitative", "title": "Trial"}}},
    {"mark": {"type": "rule", "color": "#55C2EE", "strokeDash": [1.5, 1.5], "strokeWidth": 1}, "encoding": {"y": {"datum": 3.95, "type": "quantitative", "title": "Reach Angle (z-score)"}}},
    {"mark": {"type": "rule", "color": "#F5A54A", "strokeDash": [1.5, 1.5], "strokeWidth": 1}, "encoding": {"y": {"datum": 3.8, "type": "quantitative", "title": "Reach Angle (z-score)"}}},
    {"mark": {"type": "line", "strokeWidth": 0.8, "opacity": 0.55},
     "encoding": {"x": {"field": "t", "type": "quantitative", "title": "Trial"}, "y": {"field": "m", "type": "quantitative", "title": "Reach Angle (z-score)"},
       "color": {"field": "g", "type": "nominal"}}},
    {"data": {"name": "fitC"}, "transform": [{"filter": "datum.g == 'Steep'"}], "mark": {"type": "line", "strokeWidth": 1.5, "color": "#1E9FDA"}, "encoding": {"x": {"field": "t", "type": "quantitative", "title": "Trial"}, "y": {"field": "v", "type": "quantitative", "title": "Reach Angle (z-score)"}}},
    {"data": {"name": "fitC"}, "transform": [{"filter": "datum.g == 'Shallow'"}], "mark": {"type": "line", "strokeWidth": 1.5, "color": "#EA8A1F"}, "encoding": {"x": {"field": "t", "type": "quantitative", "title": "Trial"}, "y": {"field": "v", "type": "quantitative", "title": "Reach Angle (z-score)"}}},
    {"data": {"values": [{}]}, "mark": {"type": "text", "text": "θ", "font": "Liberation Serif", "fontStyle": "italic", "fontSize": 17, "color": "#33B5E9", "align": "left", "baseline": "alphabetic"}, "encoding": {"x": {"datum": 1}, "y": {"datum": 3.99}}},
    {"data": {"values": [{}]}, "mark": {"type": "text", "text": "aim", "font": "Liberation Serif", "fontStyle": "italic", "fontSize": 10, "color": "#33B5E9", "align": "left", "baseline": "alphabetic"}, "encoding": {"x": {"datum": 10}, "y": {"datum": 4.17}}},
    {"data": {"values": [{}]}, "mark": {"type": "text", "text": "opt", "font": "Liberation Serif", "fontStyle": "italic", "fontSize": 10, "color": "#33B5E9", "align": "left", "baseline": "alphabetic"}, "encoding": {"x": {"datum": 10}, "y": {"datum": 4.0}}},
    {"data": {"values": [{}]}, "mark": {"type": "text", "text": "θ", "font": "Liberation Serif", "fontStyle": "italic", "fontSize": 17, "color": "#F39A2B", "align": "left", "baseline": "alphabetic"}, "encoding": {"x": {"datum": 1}, "y": {"datum": 3.45}}},
    {"data": {"values": [{}]}, "mark": {"type": "text", "text": "aim", "font": "Liberation Serif", "fontStyle": "italic", "fontSize": 10, "color": "#F39A2B", "align": "left", "baseline": "alphabetic"}, "encoding": {"x": {"datum": 10}, "y": {"datum": 3.6}}},
    {"data": {"values": [{}]}, "mark": {"type": "text", "text": "opt", "font": "Liberation Serif", "fontStyle": "italic", "fontSize": 10, "color": "#F39A2B", "align": "left", "baseline": "alphabetic"}, "encoding": {"x": {"datum": 10}, "y": {"datum": 3.43}}}
  ]
},
{
  "title": {"text": "D", "dx": -26, "offset": 8},
  "width": 290, "height": 290,
  "layer": [
    {"layer": [
      {"data": {"name": "histD"}, "mark": {"type": "rect", "opacity": 0.55, "stroke": "white", "strokeWidth": 0.4},
       "encoding": {"x": {"field": "a", "type": "quantitative", "scale": {"domain": [0, 140], "nice": false, "zero": false}, "axis": {"values": [0,20,40,60,80,100,120,140], "tickCount": 30, "title": "Time Constant (λ)", "domainColor": "#333", "labelPadding": 1, "titlePadding": 1, "labelOverlap": false}},
         "x2": {"field": "b"},
         "y": {"field": "h", "type": "quantitative", "scale": {"domain": [0, 30], "range": [290, 22], "nice": false}, "axis": {"values": [0,5,10,15,20,25,30], "tickCount": 30, "title": "Probability Distribution (%)", "domainColor": "#aaa", "domainWidth": 2, "titlePadding": 2, "labelOverlap": false}},
         "y2": {"datum": 0},
         "color": {"field": "g", "type": "nominal", "scale": {"domain": ["Steep", "Shallow"], "range": ["#4DC3F5", "#F9A048"]},
           "legend": {"orient": "none", "legendX": 196, "legendY": 232, "title": null, "symbolType": "M-1,-0.3H1V0.3H-1Z", "symbolSize": 676, "symbolOpacity": 0.55, "symbolStrokeWidth": 0, "labelFont": "Liberation Serif", "labelFontStyle": "italic", "labelFontSize": 15, "labelOffset": 12, "rowPadding": 4, "labelExpr": "'λ' + datum.label",
             "encode": {"labels": {"update": {"fill": {"signal": "datum.value === 'Steep' ? '#33B5E9' : '#F39A2B'"}}}}}}}},
      {"data": {"name": "cdfD"}, "layer": [
        {"transform": [{"filter": "datum.g == 'Steep'"}], "mark": {"type": "line", "strokeWidth": 1.4, "color": "#1FA8E0"},
         "encoding": {"x": {"field": "x", "type": "quantitative", "title": "Time Constant (λ)"},
           "y": {"field": "c", "type": "quantitative", "scale": {"domain": [0, 100], "range": [290, 22], "nice": false}, "axis": {"orient": "right", "values": [20,40,60,80,100], "tickCount": 30, "title": "Cumulative Distribution (%)", "domainColor": "#333", "labelFontSize": 10.5, "labelPadding": 2, "titlePadding": -1, "labelOverlap": false}}}},
        {"transform": [{"filter": "datum.g == 'Shallow'"}], "mark": {"type": "line", "strokeWidth": 1.4, "color": "#EA8A1F"},
         "encoding": {"x": {"field": "x", "type": "quantitative", "title": "Time Constant (λ)"},
           "y": {"field": "c", "type": "quantitative", "title": "Cumulative Distribution (%)"}}}
      ]}
    ], "resolve": {"scale": {"y": "independent"}}},
    {"layer": [
      {"layer": [
        {"data": {"name": "histI"}, "mark": {"type": "rect", "color": "#b5b5b5", "stroke": "white", "strokeWidth": 0.3},
         "encoding": {"x": {"field": "a", "type": "quantitative", "scale": {"domain": [-20, 120], "range": [154, 264], "nice": false, "zero": false}, "axis": {"orient": "bottom", "offset": -78, "values": [-20,0,20,40,60,80,100,120], "tickCount": 30, "title": "Time Constant Difference", "labelFontSize": 7, "titleFontSize": 8, "labelPadding": 1, "titlePadding": 1, "domainColor": "#999", "labelOverlap": false}},
           "x2": {"field": "b"},
           "y": {"field": "h", "type": "quantitative", "scale": {"domain": [0, 30], "range": [212, 112], "nice": false}, "axis": {"orient": "left", "offset": -154, "values": [0,5,10,15,20,25,30], "tickCount": 30, "title": "Probability Distribution (%)", "labelFontSize": 7, "titleFontSize": 7.5, "labelPadding": 1, "titlePadding": 2, "domainColor": "#999", "labelOverlap": false}},
           "y2": {"datum": 0}}},
        {"data": {"values": [{}]}, "mark": {"type": "text", "text": "p", "font": "Liberation Serif", "fontStyle": "italic", "fontSize": 16, "color": "#555", "align": "left", "baseline": "alphabetic"},
         "encoding": {"x": {"datum": -11}, "y": {"datum": 24.5}}},
        {"data": {"values": [{}]}, "mark": {"type": "text", "text": "=0.012", "font": "Liberation Serif", "fontSize": 16, "color": "#555", "align": "left", "baseline": "alphabetic"},
         "encoding": {"x": {"datum": -1}, "y": {"datum": 24.5}}},
        {"data": {"values": [{}]}, "mark": {"type": "text", "text": "λShallow − λSteep", "font": "Liberation Serif", "fontStyle": "italic", "fontSize": 10, "color": "#999", "align": "center", "baseline": "alphabetic"},
         "encoding": {"x": {"datum": 76}, "y": {"datum": 12}}}
      ]},
      {"data": {"name": "cdfI"}, "mark": {"type": "line", "strokeWidth": 0.8, "color": "#9a9a9a"},
       "encoding": {"x": {"field": "x", "type": "quantitative", "title": "Time Constant Difference"},
         "y": {"field": "c", "type": "quantitative", "scale": {"domain": [0, 100], "range": [212, 112], "nice": false}, "axis": {"orient": "right", "offset": -26, "values": [20,40,60,80,100], "tickCount": 30, "title": "Cumulative Distribution (%)", "labelFontSize": 7, "titleFontSize": 7.5, "labelPadding": 1, "titlePadding": 2, "domainColor": "#999", "labelOverlap": false}}}}
    ], "resolve": {"scale": {"y": "independent"}}}
  ],
  "resolve": {"scale": {"x": "independent", "y": "independent"}}
}
]
}
